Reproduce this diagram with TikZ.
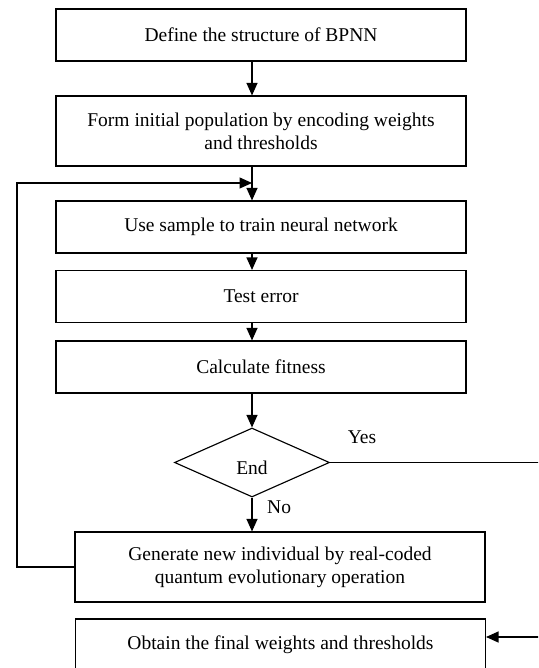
\documentclass[tikz,border=0pt]{standalone}
\usepackage{fontspec}
\setmainfont{Liberation Serif}
\usetikzlibrary{arrows.meta,shapes.geometric,positioning}

\begin{document}
\begin{tikzpicture}[x=0.02cm,y=-0.02cm,>={Triangle[length=2.5mm,width=2.2mm]},
    line width=0.65pt,
    every node/.style={font=\fontsize{11.1}{13.1}\selectfont},
    proc/.style={draw,rectangle,minimum width=8.2cm,minimum height=1.04cm,align=center,inner sep=0pt},
    tall/.style={minimum height=1.4cm},
    decide/.style={draw,diamond,minimum width=3.1cm,minimum height=1.38cm,inner sep=0pt}]

            \path[use as bounding box,clip] (0,0) rectangle (538,668);

            \node[proc] (define) at (261,35) {Define the structure of BPNN};

            \node[proc,tall] (init) at (261,131) {Form initial population by encoding weights\\and thresholds};

            \node[proc] (train) at (261,227) {Use sample to train neural network};

            \node[proc] (test) at (261,296.5) {Test error};

            \node[proc] (fit) at (261,367) {Calculate fitness};

            \node[decide,label={[yshift=-0.11cm]center:End}] (stop) at (252,462.5) {};

            \node[proc,tall] (gen) at (280,567) {Generate new individual by real-coded\\quantum evolutionary operation};

            \node[proc] (final) at (280.5,645) {Obtain the final weights and thresholds};

            \coordinate (col) at (252,0);
            \coordinate (merge) at (252,183);
            \coordinate (loopcorner) at (17,183);
            \coordinate (rightrail) at (545,637);

            \path[->] (define.south -| col) edge (init.north -| col)
                      (init.south -| col) edge (train.north -| col)
                      (train.south -| col) edge (test.north -| col)
                      (test.south -| col) edge (fit.north -| col)
                      (fit.south -| col) edge (stop)
                      (stop) edge node[right,xshift=5pt,yshift=4pt] {No} (gen.north -| col);

            \draw[->] (gen.west) -| (loopcorner) -- (merge);

            \draw[->] (stop.east) -| (rightrail) -- (rightrail -| final.east);
            \node (yes) at (362,437) {Yes};

        \end{tikzpicture}
\end{document}
